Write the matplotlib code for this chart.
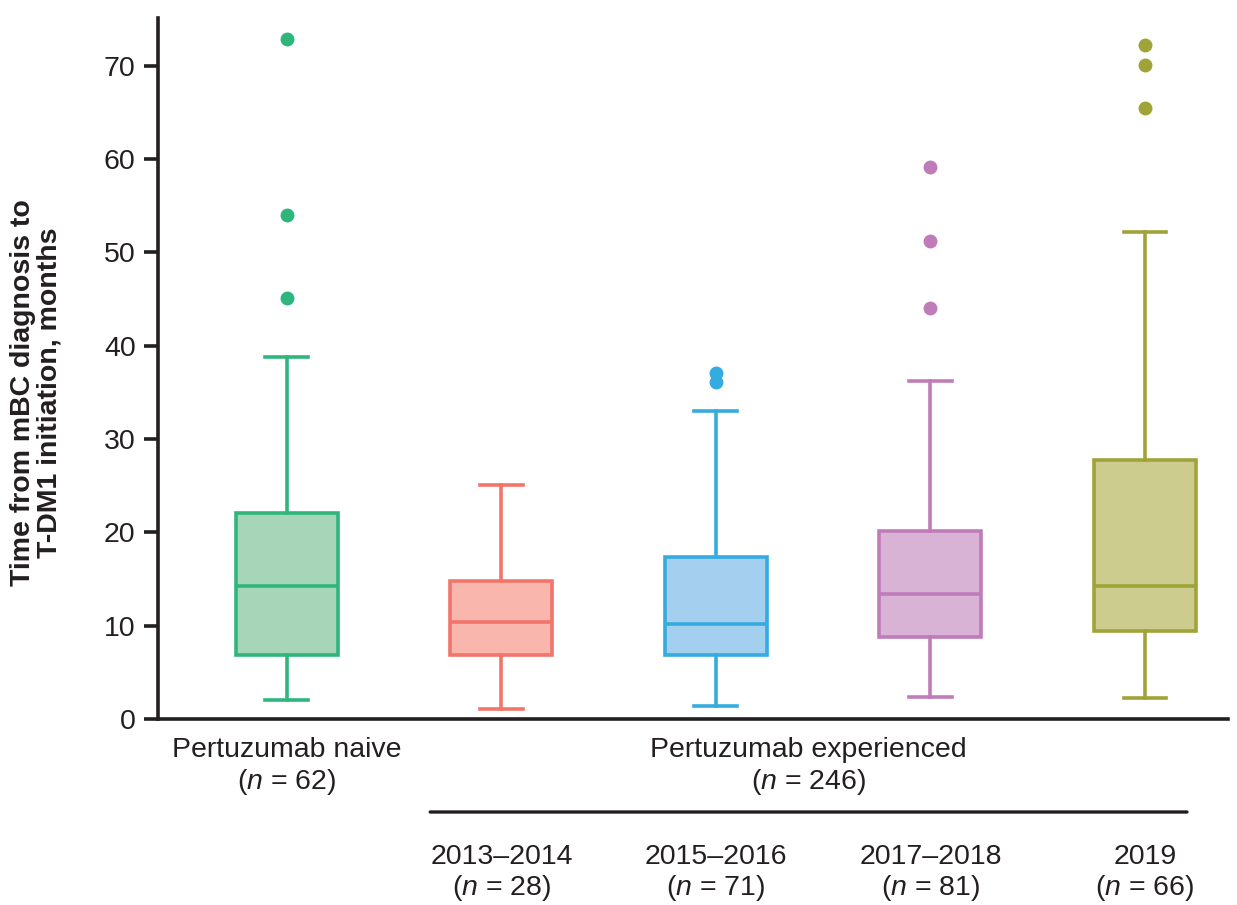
import matplotlib.pyplot as plt

plt.rcParams['font.family'] = ['Liberation Sans', 'DejaVu Sans']
plt.rcParams['mathtext.fontset'] = 'custom'
plt.rcParams['mathtext.rm'] = 'Liberation Sans'
plt.rcParams['mathtext.it'] = 'Liberation Sans:italic'

groups = ["Pertuzumab naive", "2013\u20132014", "2015\u20132016", "2017\u20132018", "2019"]
n_vals = [62, 28, 71, 81, 66]
whislo = [2.0, 1.1, 1.4, 2.4, 2.3]
q1 = [6.9, 6.9, 6.9, 8.8, 9.4]
med = [14.2, 10.4, 10.2, 13.4, 14.2]
q3 = [22.1, 14.8, 17.4, 20.1, 27.8]
whishi = [38.8, 25.1, 33.0, 36.2, 52.2]
fliers = [[72.8, 54.0, 45.1], [], [37.1, 36.1], [59.1, 51.2, 44.0], [72.2, 70.1, 65.5]]
edge_colors = ["#2EB67D", "#F2756B", "#35ACE0", "#C07CB9", "#A0A438"]
fill_colors = ["#A6D5B8", "#F8B6AC", "#A4CFEE", "#D9B3D6", "#CBCC8E"]

fig = plt.figure(figsize=(12.37, 9.05), dpi=100)
ax = fig.add_axes([0.1277, 0.2055, 0.865, 0.7746])

lw = 2.6
for i in range(len(groups)):
    stats = [dict(whislo=whislo[i], q1=q1[i], med=med[i], q3=q3[i],
                  whishi=whishi[i], fliers=fliers[i])]
    c = edge_colors[i]
    ax.bxp(stats, positions=[i], widths=0.475, patch_artist=True,
           showfliers=True, capwidths=0.2,
           boxprops=dict(facecolor=fill_colors[i], edgecolor=c, linewidth=lw),
           medianprops=dict(color=c, linewidth=lw),
           whiskerprops=dict(color=c, linewidth=lw),
           capprops=dict(color=c, linewidth=lw),
           flierprops=dict(marker='o', markerfacecolor=c, markeredgecolor=c,
                           markersize=9))

ax.set_xlim(-0.601, 4.387)
ax.set_ylim(0, 75.1)
ax.set_yticks(range(0, 71, 10))
ax.set_xticks([])
ax.spines['top'].set_visible(False)
ax.spines['right'].set_visible(False)
for s in ['left', 'bottom']:
    ax.spines[s].set_linewidth(2.6)
    ax.spines[s].set_color('#231F20')
ax.tick_params(axis='y', length=10, width=2.6, labelsize=20.5, color='#231F20',
               labelcolor='#231F20', pad=6)
ax.set_ylabel("Time from mBC diagnosis to\nT-DM1 initiation, months",
              fontsize=20.5, fontweight='bold', color='#231F20',
              linespacing=1.05)
ax.yaxis.set_label_coords(-0.089, 0.466)

tc = '#231F20'
fs = 20.5
H = 905
def put(x, ypix, s):
    ax.annotate(s, xy=(x, H - ypix), xycoords=('data', 'figure pixels'),
                ha='center', va='center', fontsize=fs, color=tc, annotation_clip=False)

put(0, 750, groups[0])
put(0, 782, "($n$ = %d)" % n_vals[0])
put(2.43, 750, "Pertuzumab experienced")
put(2.43, 782, "($n$ = %d)" % sum(n_vals[1:]))
for i in range(1, 5):
    put(i, 857, groups[i])
    put(i, 888, "($n$ = %d)" % n_vals[i])

ax.annotate("", xy=(4.196, H - 812), xytext=(0.668, H - 812),
            xycoords=('data', 'figure pixels'), textcoords=('data', 'figure pixels'),
            arrowprops=dict(arrowstyle='-', color=tc, linewidth=2.4,
                            shrinkA=0, shrinkB=0),
            annotation_clip=False)

fig.savefig("out.png", dpi=100)
